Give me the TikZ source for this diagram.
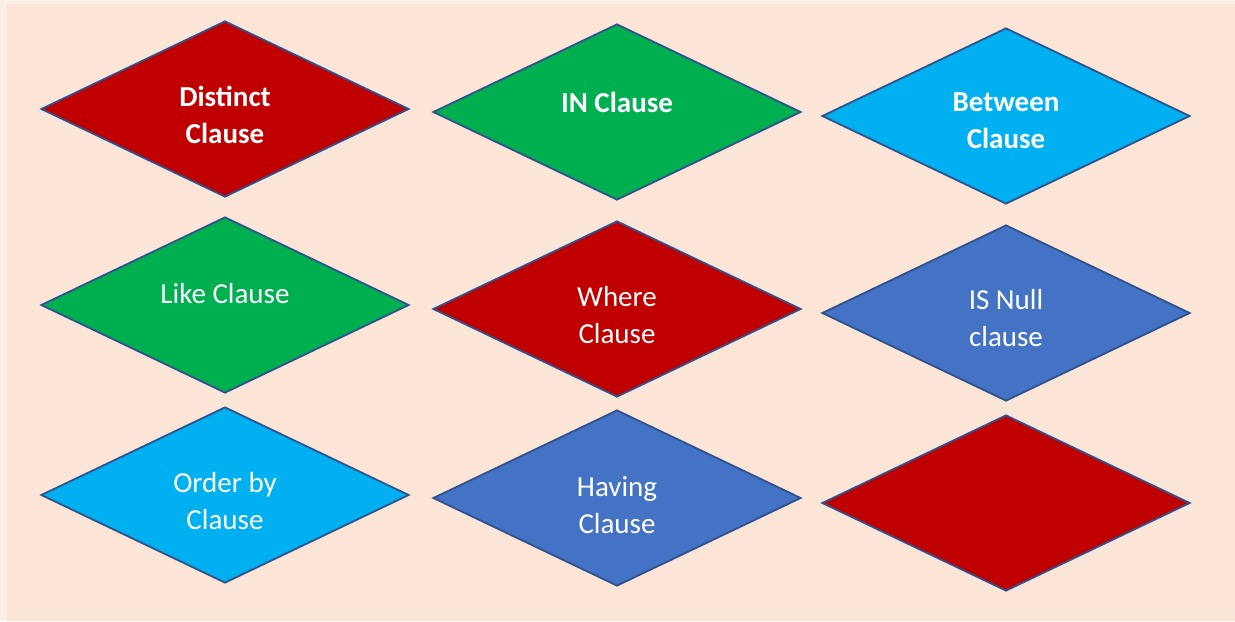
\documentclass[tikz,border=0pt]{standalone}
\usepackage{fontspec}
\setmainfont{Carlito}
\usetikzlibrary{shapes.geometric}
\definecolor{pageback}{HTML}{FCEFE7}
\definecolor{peach}{HTML}{FBE5D6}
\definecolor{edgeblue}{HTML}{2F528F}
\definecolor{clred}{HTML}{C00000}
\definecolor{clgreen}{HTML}{00B050}
\definecolor{clcyan}{HTML}{00B0F0}
\definecolor{clblue}{HTML}{4472C4}

\begin{document}
\begin{tikzpicture}[
  x=0.5pt, y=-0.5pt,
  dia/.style={diamond, draw=edgeblue, line width=0.9pt, minimum width=184pt, minimum height=88pt, inner sep=0pt},
  lbl/.style={text=white, align=center, inner sep=0pt, font=\fontsize{14.5}{18.5}\selectfont},
  blbl/.style={lbl, font=\fontsize{14.5}{18.5}\selectfont\bfseries}
]
\useasboundingbox (0,0) rectangle (1235,621);
\fill[pageback] (0,0) rectangle (1235,621);
\fill[peach] (7,4) rectangle (1235,621);

\node[dia, fill=clred] (distinct) at (225,109) {};
\node[dia, fill=clgreen] (in) at (617,112) {};
\node[dia, fill=clcyan] (between) at (1006,116) {};
\node[dia, fill=clgreen] (like) at (225,305) {};
\node[dia, fill=clred] (where) at (617,309) {};
\node[dia, fill=clblue] (isnull) at (1006,313) {};
\node[dia, fill=clcyan] (order) at (225,495) {};
\node[dia, fill=clblue] (having) at (617,498) {};
\node[dia, fill=clred] (blank) at (1006,503) {};

\node[blbl] (distincttxt) at (225,115) {Distinct\\Clause};
\node[blbl] (intxt) at (617,102) {IN Clause};
\node[blbl] (betweentxt) at (1006,121) {Between\\Clause};
\node[lbl] (liketxt) at (225,294) {Like Clause};
\node[lbl] (wheretxt) at (617,315) {Where\\Clause};
\node[lbl] (isnulltxt) at (1006,318) {IS Null\\clause};
\node[lbl] (ordertxt) at (225,501) {Order by\\Clause};
\node[lbl] (havingtxt) at (617,505) {Having\\Clause};
\end{tikzpicture}
\end{document}
